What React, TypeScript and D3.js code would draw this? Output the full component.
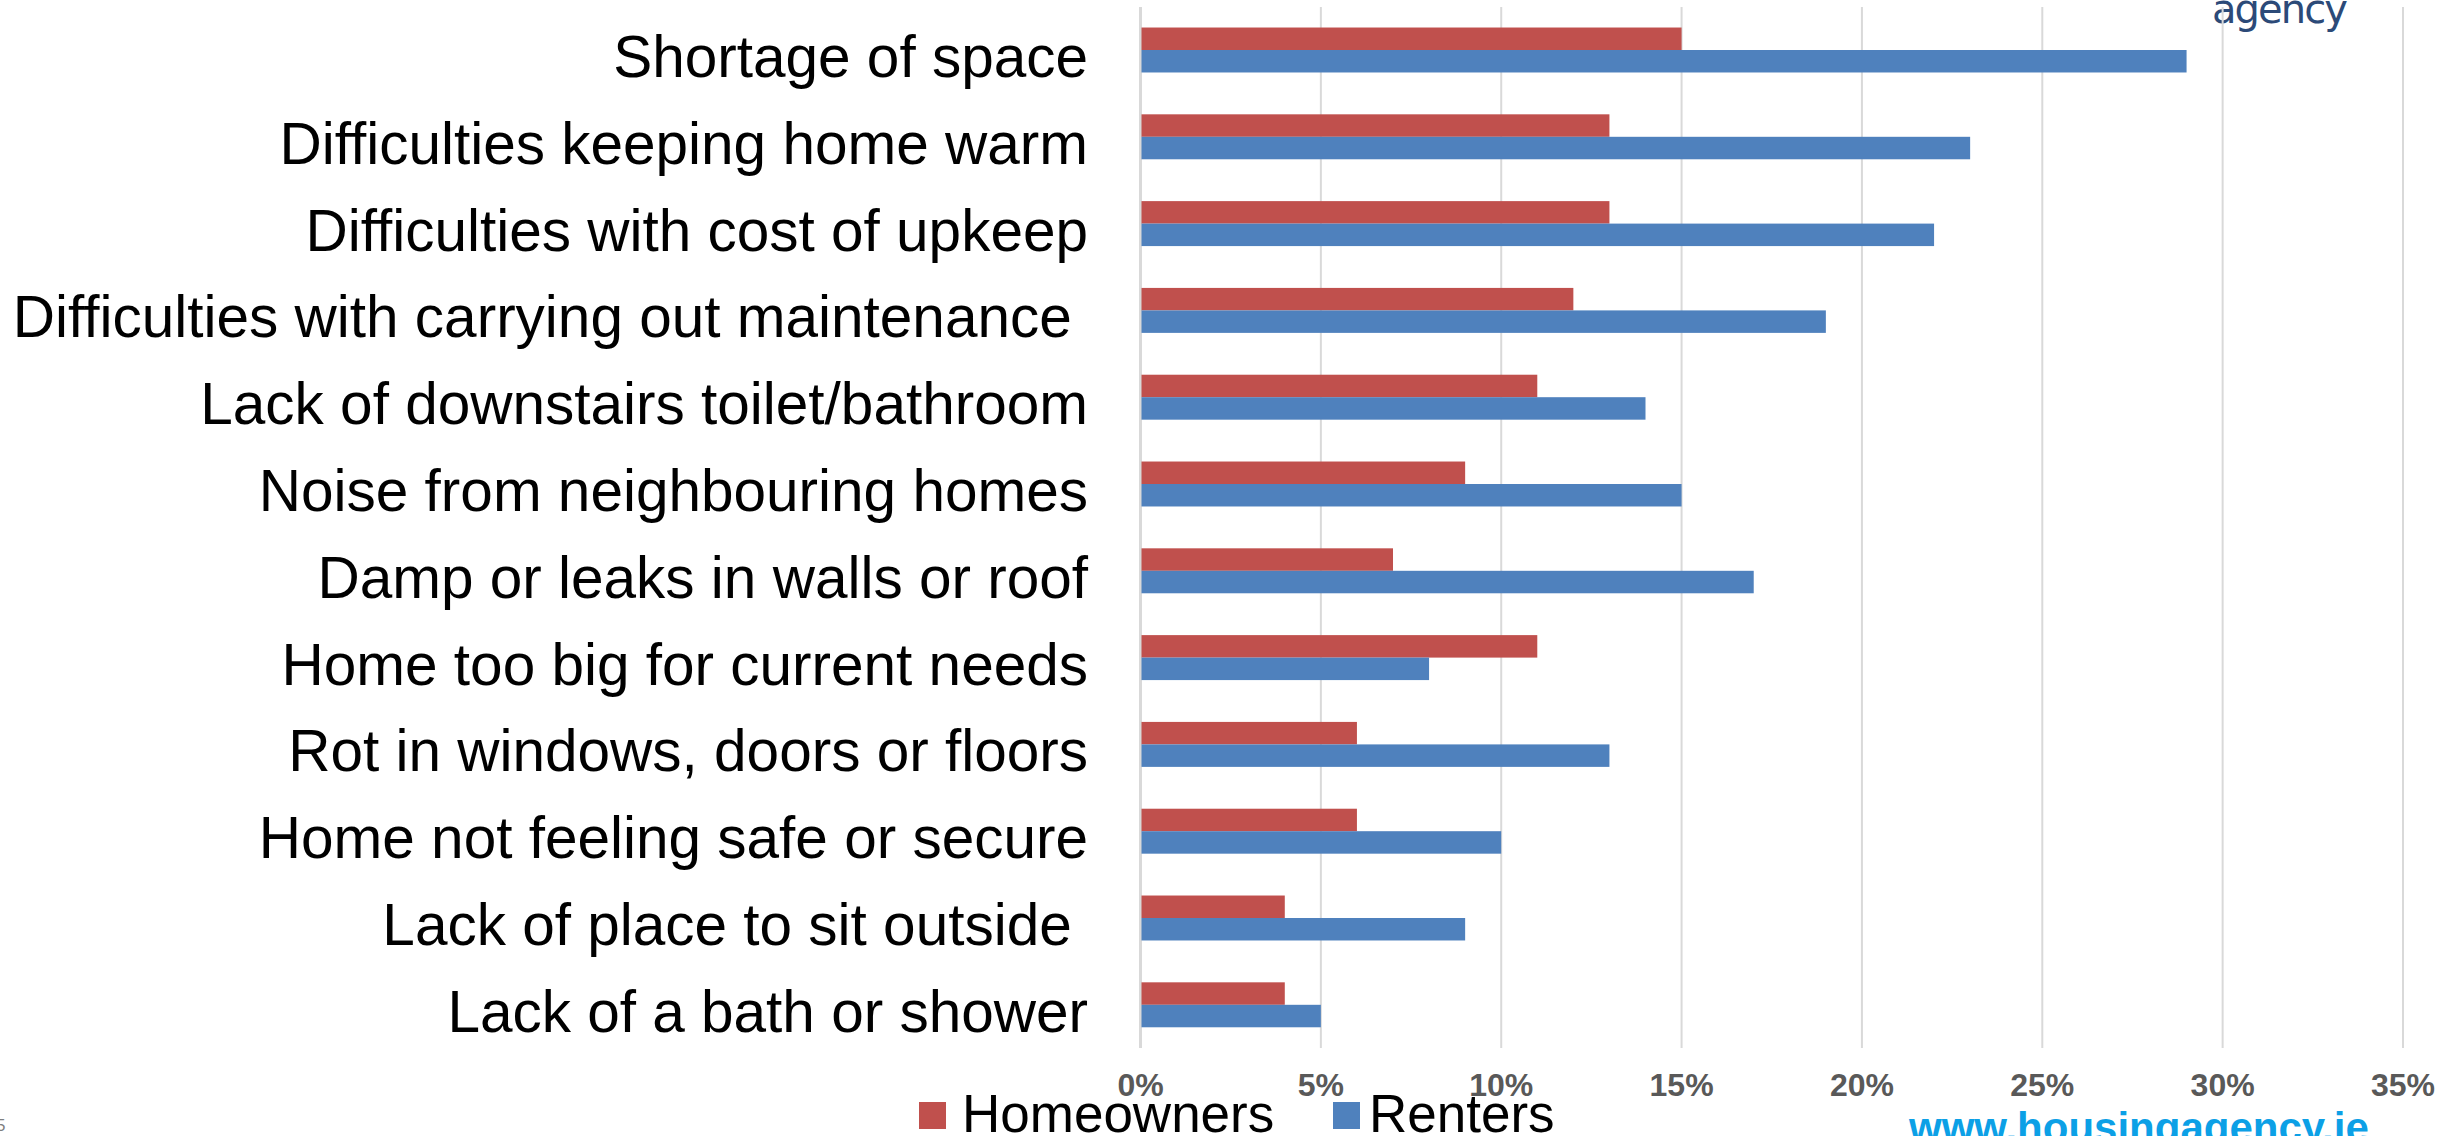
import React from "react";
import * as d3 from "d3";

const categories = [
  "Shortage of space",
  "Difficulties keeping home warm",
  "Difficulties with cost of upkeep",
  "Difficulties with carrying out maintenance ",
  "Lack of downstairs toilet/bathroom",
  "Noise from neighbouring homes",
  "Damp or leaks in walls or roof",
  "Home too big for current needs",
  "Rot in windows, doors or floors",
  "Home not feeling safe or secure",
  "Lack of place to sit outside ",
  "Lack of a bath or shower",
];
const homeowners = [15, 13, 13, 12, 11, 9, 7, 11, 6, 6, 4, 4];
const renters = [29, 23, 22, 19, 14, 15, 17, 8, 13, 10, 9, 5];
const seriesNames = ["Homeowners", "Renters"];
const seriesColors = ["#C0504D", "#4F81BD"];
const tickValues = [0, 5, 10, 15, 20, 25, 30, 35];

const W = 2453;
const H = 1136;
const FONT = "'Liberation Sans', Arial, Helvetica, sans-serif";

export default function App() {
  const x = d3.scaleLinear().domain([0, 35]).range([1140.5, 2403]);
  const y = d3
    .scaleBand<string>()
    .domain(categories)
    .range([6.6, 6.6 + 12 * 86.8])
    .paddingInner(0.482)
    .paddingOuter(0.241);
  const ySub = d3
    .scaleBand<string>()
    .domain(seriesNames)
    .range([0, y.bandwidth()]);
  const series = [homeowners, renters];

  return (
    <svg
      width={W}
      height={H}
      style={{ position: "absolute", left: 0, top: 0, background: "#fff" }}
      fontFamily={FONT}
    >
      <rect x={0} y={0} width={W} height={H} fill="#fff" />
      {/* logo fragment */}
      <text x={2212} y={23} fontSize={40} fill="#2C4A78" fontFamily="'DejaVu Sans', 'Open Sans', sans-serif" textLength={136}>
        agency
      </text>
      {/* gridlines */}
      {tickValues.map((t) => (
        <line
          key={"g" + t}
          x1={x(t)}
          x2={x(t)}
          y1={7}
          y2={1048}
          stroke="#D9D9D9"
          strokeWidth={t === 0 ? 3 : 2}
        />
      ))}
      {/* bars */}
      {series.map((vals, si) =>
        vals.map((v, i) => (
          <rect
            key={si + "-" + i}
            x={x(0) + 1}
            y={(y(categories[i]) as number) + (ySub(seriesNames[si]) as number)}
            width={x(v) - x(0) - 1}
            height={ySub.bandwidth()}
            fill={seriesColors[si]}
          />
        ))
      )}
      {/* category labels */}
      {categories.map((c) => (
        <text
          key={c}
          x={1088}
          y={(y(c) as number) + y.bandwidth() / 2 + 27}
          textAnchor="end"
          fontSize={58.5}
          fill="#000"
          style={{ whiteSpace: "pre" }}
          xmlSpace="preserve"
        >
          {c}
        </text>
      ))}
      {/* tick labels */}
      {tickValues.map((t) => (
        <text
          key={"t" + t}
          x={x(t)}
          y={1096}
          textAnchor="middle"
          fontSize={32}
          fontWeight="bold"
          fill="#595959"
        >
          {t + "%"}
        </text>
      ))}
      {/* legend */}
      <rect x={919} y={1102} width={27} height={27} fill={seriesColors[0]} />
      <text x={962} y={1131.7} fontSize={53} fill="#000">
        {seriesNames[0]}
      </text>
      <rect x={1333} y={1102} width={27} height={27} fill={seriesColors[1]} />
      <text x={1369} y={1131.7} fontSize={53} fill="#000">
        {seriesNames[1]}
      </text>
      {/* website */}
      <text x={1909} y={1142} fontSize={42} fontWeight="bold" fill="#0CA0E6">
        www.housingagency.ie
      </text>
      {/* page number fragment */}
      <text x={-4} y={1131} fontSize={17} fill="#7F7F7F">
        5
      </text>
    </svg>
  );
}
